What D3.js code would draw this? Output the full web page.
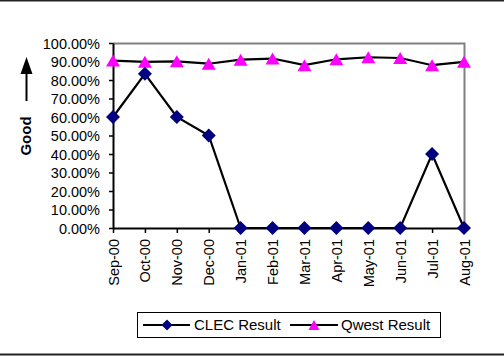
<!DOCTYPE html>
<html><head><meta charset="utf-8">
<script src="https://cdn.jsdelivr.net/npm/d3@7"></script>
<style>body{margin:0;background:#fff}svg{display:block}</style>
</head><body>
<script>
const months = ["Sep-00","Oct-00","Nov-00","Dec-00","Jan-01","Feb-01","Mar-01","Apr-01","May-01","Jun-01","Jul-01","Aug-01"];
const clec = [0.60,0.8333,0.60,0.50,0,0,0,0,0,0,0.40,0];
const qwest = [0.905,0.898,0.901,0.888,0.910,0.916,0.880,0.912,0.923,0.919,0.880,0.898];
const yTicks = [0,0.1,0.2,0.3,0.4,0.5,0.6,0.7,0.8,0.9,1.0];

const W=504,H=356;
const svg=d3.select("body").append("svg").attr("width",W).attr("height",H);
const font="Arial, 'Liberation Sans', sans-serif";
svg.append("rect").attr("width",W).attr("height",H).attr("fill","#fff");
svg.append("line").attr("x1",0).attr("x2",W).attr("y1",0.5).attr("y2",0.5).attr("stroke","#222").attr("stroke-width",2);
svg.append("line").attr("x1",0).attr("x2",W).attr("y1",354.5).attr("y2",354.5).attr("stroke","#222").attr("stroke-width",2);

const L=113,R=464,T=43,B=228;
const x=d3.scalePoint().domain(months).range([L,R]);
const y=d3.scaleLinear().domain([0,1]).range([B,T]);

svg.append("path").attr("d",`M${L},${T+0.5}H${R+0.5}V${B}`).attr("fill","none").attr("stroke","#808080").attr("stroke-width",2);

const ya=svg.append("g").attr("transform",`translate(${L},0)`)
  .call(d3.axisLeft(y).tickValues(yTicks).tickFormat(d=>(d*100).toFixed(2)+"%").tickSize(4).tickSizeOuter(0));
ya.select(".domain").attr("stroke","#000").attr("stroke-width",2);
ya.selectAll(".tick line").attr("stroke","#000").attr("stroke-width",1.5);
ya.selectAll("text").attr("font-family",font).attr("font-size","14.5px").attr("fill","#000").attr("x",-13).attr("dy","0.36em");

const xa=svg.append("g").attr("transform",`translate(0,${B})`)
  .call(d3.axisBottom(x).tickSize(5).tickSizeOuter(0));
xa.select(".domain").attr("stroke","#000").attr("stroke-width",2);
xa.selectAll(".tick line").attr("stroke","#000").attr("stroke-width",1.5);
xa.selectAll("text").attr("font-family",font).attr("font-size","14.5px").attr("fill","#000")
  .attr("transform","rotate(-90)").attr("x",-11).attr("y",0).attr("dy","0.35em").attr("text-anchor","end");

const line=d3.line().x((d,i)=>x(months[i])).y(d=>y(d));
svg.append("path").datum(qwest).attr("d",line).attr("fill","none").attr("stroke","#000").attr("stroke-width",2.2);
svg.append("path").datum(clec).attr("d",line).attr("fill","none").attr("stroke","#000").attr("stroke-width",2.2);

const triP=(cx,cy,w,h)=>`M${cx},${cy-h/2}L${cx+w/2},${cy+h/2}L${cx-w/2},${cy+h/2}Z`;
const dia=(cx,cy,r)=>`M${cx},${cy-r}L${cx+r},${cy}L${cx},${cy+r}L${cx-r},${cy}Z`;
svg.selectAll(".q").data(qwest).join("path")
  .attr("d",(d,i)=>triP(x(months[i]),y(d),14,12)).attr("fill","#ff00ff");
svg.selectAll(".c").data(clec).join("path")
  .attr("d",(d,i)=>dia(x(months[i]),y(d),7)).attr("fill","#000080");

svg.append("text").attr("transform","translate(31,136) rotate(-90)").attr("text-anchor","middle")
  .attr("font-family",font).attr("font-weight","bold").attr("font-size","15px").text("Good");
svg.append("line").attr("x1",26.5).attr("x2",26.5).attr("y1",101).attr("y2",70).attr("stroke","#000").attr("stroke-width",2);
svg.append("path").attr("d","M26.5,57L32.5,74L20.5,74Z").attr("fill","#000");

const lg=svg.append("g");
lg.append("rect").attr("x",137.5).attr("y",312.5).attr("width",303).attr("height",25).attr("fill","#fff").attr("stroke","#000").attr("stroke-width",1);
lg.append("line").attr("x1",143).attr("x2",190).attr("y1",325).attr("y2",325).attr("stroke","#000").attr("stroke-width",2);
lg.append("path").attr("d",dia(167,325,5.5)).attr("fill","#000080");
lg.append("text").attr("x",194).attr("y",325).attr("dy","0.36em").attr("font-family",font).attr("font-size","15px").text("CLEC Result");
lg.append("line").attr("x1",290).attr("x2",338).attr("y1",325).attr("y2",325).attr("stroke","#000").attr("stroke-width",2);
lg.append("path").attr("d",triP(314,325,11,10)).attr("fill","#ff00ff");
lg.append("text").attr("x",341).attr("y",325).attr("dy","0.36em").attr("font-family",font).attr("font-size","15px").text("Qwest Result");
</script>
</body></html>
